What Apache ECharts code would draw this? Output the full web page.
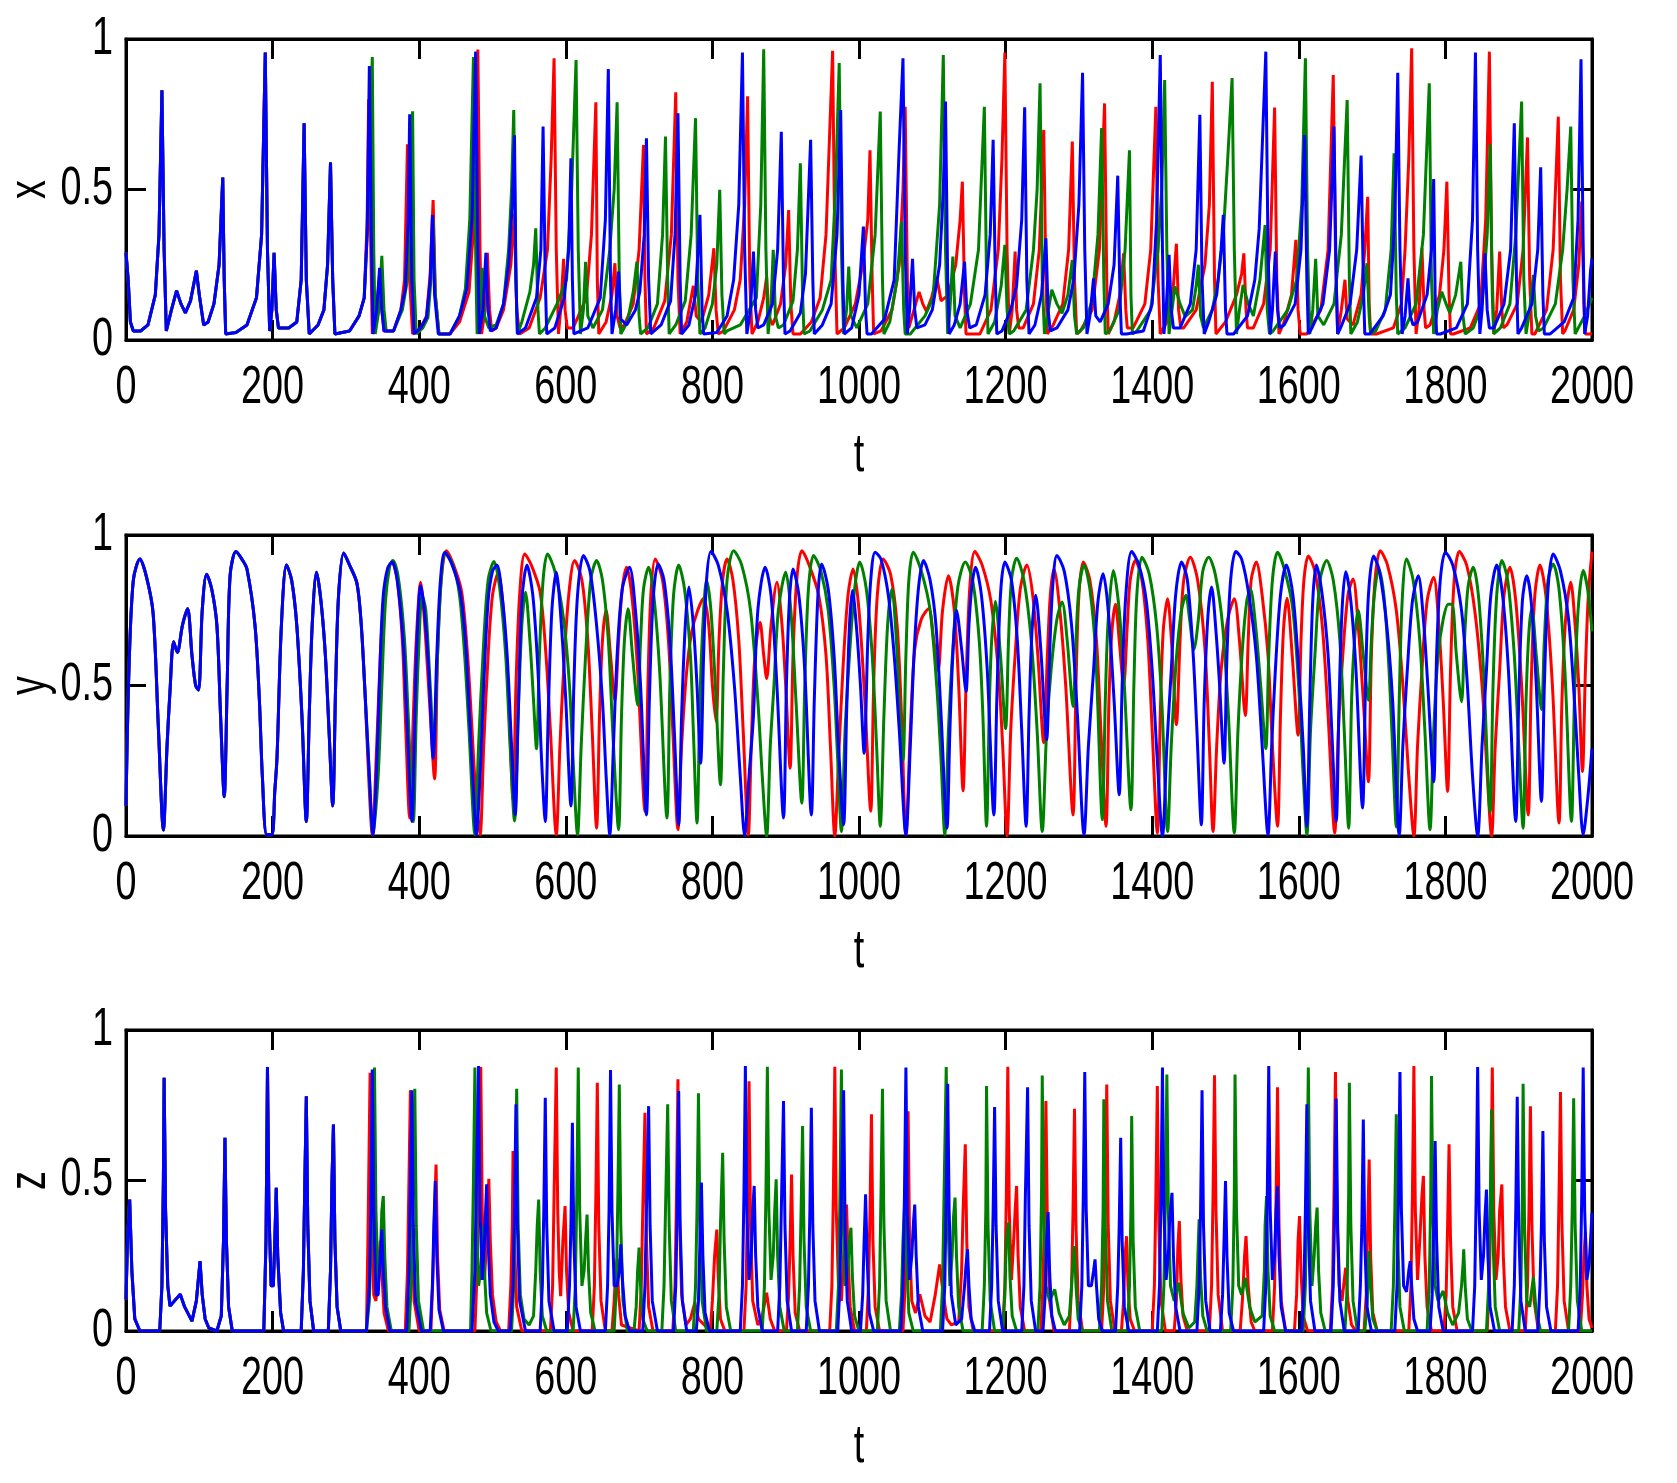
<!DOCTYPE html>
<html>
<head>
<meta charset="utf-8">
<script src="https://cdn.jsdelivr.net/npm/echarts@6/dist/echarts.min.js"></script>
<style>
html, body { margin: 0; padding: 0; background: #fff; }
#main { width: 1677px; height: 1483px; }
</style>
</head>
<body>
<div id="main"></div>
<script>
// tick labels
const tTicks = [0, 200, 400, 600, 800, 1000, 1200, 1400, 1600, 1800, 2000]
const vTicks = [0, 0.5, 1]

// ---- x(t): shared start (all three traces overlap), then per trace
const xEarly = [[0,0.29],[3,0.2],[6,0.06],[10,0.03],[20,0.03],[30,0.05],[40,0.15],[45,0.35],[49,0.83],[52,0.3],[55,0.03],[62,0.1],[69,0.164],[75,0.12],[81,0.09],[88,0.13],[96,0.23],[100,0.15],[106,0.05],[112,0.06],[120,0.12],[127,0.25],[132,0.54],[134,0.2],[136,0.02],[150,0.025],[165,0.05],[178,0.14],[185,0.35],[190,0.955],[193,0.3],[196,0.03],[199,0.1],[202,0.29],[205,0.1],[208,0.04],[222,0.04],[233,0.06],[239,0.2],[243,0.72],[246,0.2],[250,0.02],[262,0.05],[270,0.1],[275,0.25],[279,0.59],[282,0.2],[285,0.02],[305,0.03],[318,0.08],[325,0.14]]

const xRedTail = [[329,0.4],[331,0.8],[334,0.3],[336,0.02],[342,0.1],[346,0.22],[349,0.1],[352,0.03],[365,0.03],[375,0.1],[380,0.2],[384,0.65],[387,0.2],[391,0.02],[402,0.04],[410,0.08],[415,0.22],[419,0.465],[422,0.15],[427,0.02],[442,0.02],[455,0.06],[468,0.16],[475,0.4],[480,0.965],[483,0.3],[485,0.02],[490,0.1],[493,0.29],[496,0.1],[499,0.03],[505,0.04],[515,0.1],[525,0.25],[530,0.42],[533,0.1],[537,0.02],[550,0.04],[565,0.14],[575,0.3],[580,0.6],[584,0.936],[587,0.3],[590,0.02],[593,0.1],[597,0.27],[599,0.1],[602,0.04],[610,0.04],[628,0.14],[635,0.35],[641,0.79],[643,0.2],[645,0.02],[655,0.06],[663,0.15],[667,0.255],[670,0.08],[674,0.04],[680,0.05],[692,0.12],[700,0.3],[706,0.648],[708,0.2],[710,0.02],[720,0.04],[735,0.13],[744,0.35],[750,0.823],[753,0.2],[756,0.02],[765,0.06],[774,0.18],[778,0.08],[785,0.06],[795,0.15],[802,0.305],[805,0.1],[808,0.02],[815,0.03],[830,0.1],[838,0.2],[844,0.45],[848,0.81],[851,0.2],[854,0.02],[862,0.06],[870,0.14],[874,0.21],[877,0.08],[882,0.05],[893,0.12],[900,0.25],[904,0.432],[907,0.12],[910,0.02],[920,0.02],[935,0.06],[947,0.14],[955,0.35],[964,0.961],[967,0.3],[970,0.02],[980,0.04],[995,0.12],[1005,0.25],[1012,0.4],[1015,0.63],[1018,0.2],[1020,0.02],[1030,0.03],[1045,0.1],[1055,0.25],[1060,0.5],[1063,0.775],[1066,0.2],[1068,0.04],[1075,0.1],[1082,0.16],[1087,0.12],[1092,0.095],[1099,0.14],[1106,0.21],[1112,0.13],[1122,0.15],[1132,0.25],[1138,0.4],[1141,0.526],[1144,0.15],[1146,0.02],[1165,0.02],[1180,0.1],[1190,0.3],[1195,0.6],[1199,0.955],[1202,0.3],[1205,0.02],[1209,0.1],[1213,0.294],[1215,0.1],[1218,0.04],[1224,0.04],[1238,0.12],[1246,0.3],[1252,0.698],[1255,0.2],[1257,0.02],[1265,0.05],[1278,0.12],[1286,0.3],[1291,0.659],[1294,0.2],[1297,0.02],[1302,0.03],[1318,0.1],[1328,0.3],[1335,0.786],[1338,0.2],[1340,0.02],[1348,0.06],[1356,0.15],[1361,0.288],[1364,0.1],[1366,0.04],[1374,0.04],[1390,0.12],[1398,0.3],[1405,0.775],[1408,0.2],[1411,0.02],[1420,0.06],[1428,0.15],[1433,0.32],[1436,0.1],[1439,0.04],[1443,0.04],[1460,0.1],[1472,0.25],[1478,0.45],[1482,0.858],[1485,0.2],[1487,0.02],[1500,0.06],[1515,0.15],[1522,0.22],[1525,0.288],[1528,0.1],[1530,0.04],[1538,0.04],[1552,0.12],[1561,0.3],[1567,0.772],[1570,0.2],[1573,0.02],[1580,0.06],[1590,0.15],[1596,0.333],[1599,0.1],[1602,0.02],[1611,0.02],[1630,0.1],[1640,0.3],[1647,0.88],[1650,0.3],[1653,0.02],[1658,0.1],[1663,0.2],[1666,0.07],[1674,0.05],[1685,0.15],[1690,0.3],[1694,0.476],[1696,0.12],[1698,0.02],[1706,0.02],[1729,0.04],[1740,0.12],[1745,0.3],[1750,0.6],[1754,0.969],[1757,0.3],[1760,0.02],[1764,0.1],[1768,0.305],[1771,0.1],[1773,0.04],[1779,0.05],[1792,0.15],[1798,0.3],[1802,0.526],[1805,0.15],[1807,0.02],[1811,0.02],[1834,0.04],[1848,0.12],[1855,0.4],[1860,0.958],[1863,0.3],[1866,0.02],[1870,0.1],[1874,0.294],[1877,0.1],[1879,0.04],[1884,0.05],[1898,0.12],[1906,0.3],[1912,0.673],[1915,0.2],[1918,0.02],[1922,0.02],[1938,0.1],[1947,0.3],[1954,0.742],[1957,0.2],[1960,0.02],[1963,0.03],[1975,0.1],[1982,0.25],[1986,0.46],[1989,0.12],[1991,0.02],[2000,0.02]]

const xGreenTail = [[330,0.4],[336,0.94],[338,0.3],[340,0.02],[345,0.1],[349,0.28],[352,0.1],[355,0.03],[365,0.03],[377,0.1],[384,0.2],[388,0.5],[391,0.76],[393,0.2],[396,0.02],[405,0.04],[412,0.075],[416,0.2],[419,0.4],[422,0.15],[427,0.02],[442,0.02],[455,0.08],[463,0.17],[469,0.4],[474,0.94],[477,0.3],[479,0.02],[483,0.1],[486,0.24],[489,0.08],[495,0.04],[505,0.05],[515,0.12],[522,0.3],[526,0.5],[529,0.764],[532,0.2],[534,0.02],[540,0.06],[551,0.16],[556,0.25],[559,0.371],[562,0.1],[564,0.02],[572,0.04],[588,0.12],[601,0.2],[608,0.5],[614,0.93],[617,0.3],[620,0.02],[624,0.1],[627,0.26],[630,0.08],[637,0.04],[650,0.1],[660,0.3],[666,0.5],[670,0.79],[673,0.2],[675,0.02],[684,0.06],[692,0.16],[697,0.26],[700,0.08],[702,0.02],[712,0.04],[725,0.12],[732,0.35],[736,0.676],[739,0.2],[741,0.02],[750,0.05],[763,0.13],[771,0.35],[777,0.737],[780,0.2],[783,0.02],[790,0.04],[800,0.12],[806,0.25],[810,0.499],[813,0.15],[816,0.02],[820,0.03],[838,0.05],[860,0.14],[866,0.45],[870,0.966],[873,0.3],[876,0.02],[880,0.12],[883,0.3],[886,0.08],[890,0.04],[897,0.05],[910,0.13],[916,0.3],[920,0.587],[923,0.15],[925,0.02],[933,0.03],[950,0.1],[962,0.2],[968,0.5],[973,0.92],[976,0.3],[979,0.02],[983,0.1],[986,0.244],[989,0.08],[997,0.04],[1012,0.12],[1022,0.35],[1029,0.759],[1032,0.2],[1034,0.02],[1042,0.06],[1052,0.2],[1058,0.393],[1061,0.1],[1063,0.02],[1070,0.02],[1090,0.08],[1101,0.14],[1110,0.45],[1115,0.947],[1118,0.3],[1121,0.02],[1124,0.1],[1128,0.277],[1131,0.08],[1138,0.04],[1152,0.12],[1163,0.3],[1171,0.775],[1174,0.2],[1176,0.02],[1185,0.06],[1194,0.18],[1199,0.316],[1202,0.1],[1205,0.02],[1211,0.03],[1228,0.1],[1238,0.3],[1243,0.5],[1247,0.853],[1250,0.2],[1253,0.02],[1257,0.08],[1263,0.167],[1270,0.12],[1277,0.089],[1285,0.15],[1291,0.266],[1294,0.08],[1297,0.02],[1306,0.04],[1318,0.13],[1326,0.35],[1331,0.704],[1334,0.2],[1336,0.02],[1342,0.03],[1355,0.1],[1363,0.3],[1369,0.63],[1371,0.15],[1373,0.02],[1379,0.03],[1398,0.1],[1408,0.3],[1413,0.5],[1417,0.864],[1420,0.3],[1423,0.02],[1427,0.1],[1431,0.178],[1438,0.12],[1445,0.078],[1455,0.1],[1460,0.18],[1463,0.25],[1466,0.08],[1470,0.04],[1482,0.1],[1490,0.2],[1497,0.35],[1503,0.6],[1509,0.87],[1512,0.3],[1515,0.02],[1519,0.1],[1524,0.183],[1531,0.12],[1538,0.08],[1547,0.2],[1554,0.382],[1557,0.1],[1560,0.02],[1565,0.03],[1585,0.1],[1597,0.2],[1604,0.45],[1609,0.936],[1612,0.3],[1615,0.02],[1619,0.1],[1623,0.27],[1626,0.08],[1634,0.05],[1648,0.12],[1658,0.35],[1666,0.797],[1669,0.2],[1671,0.02],[1680,0.06],[1688,0.15],[1693,0.255],[1696,0.08],[1698,0.02],[1705,0.03],[1718,0.1],[1726,0.3],[1730,0.62],[1733,0.15],[1735,0.02],[1745,0.04],[1760,0.12],[1770,0.35],[1778,0.853],[1781,0.2],[1784,0.02],[1789,0.1],[1795,0.16],[1801,0.12],[1806,0.09],[1814,0.15],[1821,0.26],[1824,0.08],[1827,0.02],[1838,0.04],[1850,0.12],[1857,0.35],[1861,0.65],[1864,0.15],[1866,0.02],[1875,0.04],[1888,0.12],[1896,0.35],[1904,0.792],[1907,0.2],[1910,0.02],[1915,0.1],[1920,0.216],[1923,0.08],[1927,0.03],[1934,0.04],[1950,0.12],[1960,0.3],[1966,0.5],[1971,0.709],[1974,0.2],[1977,0.02],[1990,0.08],[2000,0.14]]

const xBlueTail = [[329,0.35],[332,0.91],[335,0.3],[337,0.02],[342,0.1],[346,0.24],[349,0.1],[352,0.03],[365,0.03],[375,0.1],[381,0.17],[385,0.4],[387,0.75],[390,0.2],[393,0.02],[402,0.04],[410,0.075],[415,0.2],[418,0.415],[421,0.15],[426,0.02],[442,0.02],[455,0.08],[465,0.17],[472,0.4],[477,0.958],[480,0.3],[482,0.02],[487,0.1],[491,0.29],[494,0.1],[497,0.03],[505,0.04],[515,0.12],[522,0.25],[527,0.45],[530,0.68],[532,0.2],[534,0.02],[545,0.04],[560,0.14],[566,0.3],[569,0.709],[572,0.2],[574,0.02],[585,0.04],[598,0.14],[604,0.3],[607,0.604],[609,0.2],[611,0.02],[630,0.04],[647,0.14],[654,0.4],[658,0.9],[661,0.2],[663,0.02],[668,0.1],[672,0.227],[675,0.07],[683,0.05],[695,0.1],[701,0.16],[707,0.35],[710,0.67],[713,0.2],[716,0.02],[730,0.05],[743,0.13],[749,0.35],[753,0.753],[756,0.2],[758,0.02],[768,0.05],[777,0.15],[783,0.416],[786,0.1],[788,0.02],[806,0.025],[820,0.08],[829,0.2],[836,0.45],[841,0.955],[844,0.3],[847,0.02],[852,0.1],[856,0.294],[859,0.1],[862,0.04],[870,0.05],[882,0.12],[889,0.3],[894,0.692],[897,0.2],[899,0.02],[906,0.03],[920,0.09],[927,0.22],[934,0.665],[937,0.2],[939,0.02],[950,0.05],[962,0.12],[970,0.35],[975,0.764],[978,0.2],[980,0.02],[990,0.04],[1000,0.15],[1006,0.377],[1009,0.1],[1011,0.02],[1017,0.02],[1035,0.07],[1048,0.2],[1055,0.65],[1060,0.936],[1063,0.3],[1066,0.02],[1069,0.1],[1073,0.27],[1076,0.1],[1079,0.04],[1090,0.05],[1100,0.1],[1110,0.25],[1115,0.5],[1118,0.792],[1121,0.2],[1123,0.02],[1130,0.05],[1138,0.12],[1144,0.26],[1147,0.1],[1151,0.04],[1160,0.05],[1172,0.15],[1179,0.35],[1183,0.665],[1186,0.2],[1188,0.02],[1195,0.03],[1207,0.1],[1215,0.18],[1222,0.4],[1226,0.773],[1229,0.2],[1232,0.02],[1240,0.05],[1249,0.15],[1255,0.338],[1258,0.1],[1261,0.03],[1270,0.04],[1285,0.1],[1293,0.2],[1300,0.45],[1305,0.888],[1308,0.3],[1311,0.02],[1315,0.08],[1320,0.205],[1323,0.08],[1329,0.06],[1340,0.12],[1348,0.25],[1353,0.546],[1356,0.15],[1358,0.02],[1365,0.02],[1388,0.03],[1400,0.12],[1406,0.4],[1411,0.947],[1414,0.3],[1416,0.02],[1419,0.1],[1423,0.283],[1426,0.1],[1429,0.04],[1438,0.04],[1452,0.12],[1460,0.3],[1465,0.748],[1468,0.2],[1471,0.02],[1477,0.06],[1488,0.15],[1494,0.3],[1497,0.416],[1500,0.1],[1502,0.02],[1511,0.02],[1530,0.08],[1540,0.2],[1546,0.37],[1551,0.7],[1555,0.958],[1558,0.3],[1561,0.02],[1564,0.1],[1568,0.294],[1571,0.1],[1574,0.04],[1580,0.05],[1595,0.12],[1603,0.3],[1608,0.681],[1611,0.2],[1613,0.02],[1618,0.04],[1633,0.12],[1642,0.3],[1648,0.709],[1651,0.2],[1653,0.02],[1657,0.04],[1670,0.12],[1679,0.3],[1685,0.613],[1688,0.2],[1690,0.02],[1697,0.02],[1715,0.08],[1725,0.15],[1731,0.4],[1735,0.888],[1738,0.3],[1741,0.02],[1745,0.08],[1749,0.205],[1752,0.08],[1756,0.05],[1762,0.06],[1775,0.15],[1781,0.3],[1784,0.535],[1786,0.15],[1788,0.02],[1793,0.02],[1815,0.04],[1830,0.12],[1837,0.4],[1841,0.955],[1844,0.3],[1847,0.02],[1850,0.1],[1854,0.288],[1857,0.1],[1860,0.04],[1866,0.04],[1880,0.12],[1889,0.3],[1894,0.72],[1897,0.2],[1899,0.02],[1904,0.04],[1918,0.12],[1926,0.3],[1930,0.574],[1933,0.15],[1935,0.02],[1943,0.02],[1962,0.06],[1975,0.14],[1981,0.4],[1985,0.933],[1988,0.3],[1990,0.02],[1994,0.08],[1998,0.23],[2000,0.27]]

// ---- y(t)
const yEarly = [[0,0.1],[4,0.55],[10,0.85],[19,0.92],[28,0.86],[37,0.74],[44,0.37],[51,0.02],[56,0.3],[60,0.48],[65,0.645],[70,0.61],[77,0.7],[84,0.755],[90,0.6],[95,0.5],[99,0.485],[104,0.75],[110,0.87],[117,0.82],[124,0.7],[129,0.4],[134,0.13],[138,0.5],[142,0.865],[150,0.945],[158,0.92],[165,0.887],[176,0.7],[182,0.45],[186,0.2],[192,0.004],[199,0.004],[203,0.15],[206,0.26],[212,0.7],[219,0.9],[226,0.85],[233,0.7],[240,0.4],[246,0.048],[250,0.4],[254,0.7],[260,0.876],[266,0.78],[272,0.6],[277,0.35],[282,0.1],[286,0.5],[290,0.8],[297,0.94],[305,0.9],[315,0.84],[321,0.7],[326,0.48]]

const yRedTail = [[331,0.2],[336,0.004],[342,0.3],[347,0.6],[352,0.8],[358,0.89],[363,0.91],[370,0.85],[377,0.65],[381,0.4],[387,0.06],[392,0.4],[396,0.65],[402,0.843],[407,0.72],[414,0.45],[421,0.19],[425,0.6],[430,0.85],[437,0.948],[447,0.9],[458,0.81],[466,0.6],[471,0.4],[477,0.15],[483,0.004],[488,0.3],[494,0.6],[500,0.8],[508,0.876],[515,0.75],[522,0.45],[528,0.12],[532,0.5],[537,0.8],[544,0.937],[553,0.9],[565,0.81],[573,0.6],[579,0.35],[587,0.004],[592,0.3],[597,0.55],[604,0.8],[612,0.915],[622,0.85],[630,0.65],[636,0.35],[642,0.026],[646,0.4],[650,0.65],[655,0.75],[661,0.6],[667,0.45],[672,0.65],[677,0.82],[683,0.893],[690,0.8],[698,0.55],[708,0.082],[712,0.5],[716,0.8],[722,0.92],[732,0.85],[740,0.65],[746,0.35],[753,0.021],[758,0.3],[765,0.55],[772,0.68],[780,0.75],[788,0.79],[795,0.7],[800,0.5],[805,0.38],[809,0.65],[814,0.85],[820,0.92],[828,0.85],[836,0.65],[842,0.35],[849,0.004],[853,0.3],[858,0.6],[865,0.71],[870,0.6],[874,0.523],[880,0.7],[888,0.843],[895,0.7],[900,0.5],[906,0.225],[910,0.6],[915,0.85],[922,0.948],[932,0.9],[945,0.8],[955,0.6],[961,0.3],[967,0.0],[972,0.25],[978,0.55],[985,0.8],[992,0.887],[1000,0.75],[1008,0.45],[1016,0.082],[1020,0.5],[1025,0.8],[1033,0.92],[1043,0.87],[1052,0.7],[1058,0.4],[1064,0.004],[1070,0.35],[1076,0.62],[1085,0.72],[1095,0.755],[1102,0.65],[1108,0.55],[1114,0.75],[1122,0.865],[1130,0.75],[1136,0.5],[1142,0.15],[1146,0.5],[1151,0.82],[1158,0.945],[1168,0.9],[1180,0.78],[1190,0.55],[1196,0.3],[1202,0.0],[1207,0.35],[1213,0.6],[1220,0.82],[1229,0.9],[1237,0.8],[1244,0.6],[1252,0.31],[1257,0.6],[1261,0.8],[1266,0.887],[1274,0.75],[1282,0.5],[1292,0.07],[1296,0.5],[1300,0.8],[1306,0.91],[1315,0.85],[1324,0.65],[1330,0.35],[1337,0.032],[1341,0.45],[1345,0.68],[1350,0.77],[1355,0.65],[1361,0.5],[1366,0.7],[1370,0.85],[1377,0.915],[1386,0.85],[1394,0.65],[1400,0.35],[1407,0.01],[1411,0.4],[1415,0.68],[1421,0.788],[1427,0.62],[1433,0.37],[1438,0.65],[1443,0.85],[1452,0.926],[1462,0.85],[1472,0.62],[1478,0.3],[1483,0.015],[1488,0.3],[1494,0.55],[1503,0.72],[1512,0.788],[1519,0.65],[1527,0.4],[1531,0.65],[1535,0.85],[1542,0.91],[1550,0.8],[1558,0.6],[1564,0.3],[1571,0.032],[1575,0.4],[1579,0.68],[1584,0.79],[1591,0.6],[1599,0.335],[1603,0.65],[1607,0.85],[1613,0.93],[1622,0.88],[1632,0.7],[1640,0.4],[1649,0.01],[1654,0.35],[1660,0.6],[1667,0.8],[1674,0.854],[1681,0.7],[1688,0.45],[1695,0.18],[1699,0.6],[1704,0.85],[1711,0.948],[1721,0.9],[1733,0.75],[1742,0.5],[1750,0.2],[1757,0.0],[1762,0.3],[1768,0.55],[1775,0.78],[1784,0.86],[1791,0.7],[1797,0.45],[1803,0.148],[1807,0.55],[1812,0.85],[1819,0.945],[1829,0.9],[1840,0.75],[1850,0.5],[1856,0.25],[1863,0.0],[1868,0.3],[1874,0.55],[1880,0.8],[1888,0.893],[1896,0.78],[1904,0.5],[1913,0.07],[1917,0.5],[1922,0.8],[1929,0.9],[1937,0.8],[1946,0.5],[1955,0.043],[1959,0.45],[1964,0.72],[1971,0.843],[1977,0.7],[1982,0.5],[1987,0.214],[1991,0.55],[1995,0.8],[2000,0.945]]

const yGreenTail = [[331,0.25],[337,0.004],[344,0.2],[349,0.5],[354,0.78],[360,0.9],[364,0.915],[372,0.85],[380,0.65],[385,0.4],[392,0.048],[396,0.4],[399,0.6],[404,0.8],[409,0.75],[415,0.5],[420,0.3],[425,0.6],[430,0.85],[436,0.94],[446,0.9],[455,0.8],[462,0.6],[468,0.35],[476,0.004],[481,0.3],[487,0.6],[494,0.85],[502,0.912],[510,0.82],[518,0.6],[524,0.3],[530,0.05],[535,0.4],[540,0.7],[545,0.81],[551,0.65],[556,0.45],[560,0.29],[564,0.6],[569,0.85],[575,0.937],[585,0.88],[597,0.72],[605,0.5],[610,0.25],[616,0.004],[621,0.3],[627,0.6],[634,0.85],[642,0.915],[650,0.85],[658,0.65],[664,0.35],[672,0.021],[676,0.4],[680,0.65],[685,0.755],[691,0.6],[698,0.435],[702,0.65],[706,0.82],[713,0.893],[720,0.8],[728,0.55],[738,0.06],[742,0.5],[747,0.8],[754,0.9],[762,0.82],[770,0.6],[774,0.35],[779,0.043],[783,0.45],[787,0.7],[792,0.85],[798,0.75],[804,0.5],[811,0.17],[815,0.55],[820,0.85],[829,0.948],[840,0.9],[852,0.75],[862,0.45],[868,0.2],[874,0.0],[879,0.3],[884,0.5],[890,0.75],[900,0.876],[907,0.75],[914,0.45],[922,0.109],[926,0.5],[931,0.82],[938,0.932],[948,0.88],[958,0.75],[966,0.5],[971,0.25],[976,0.015],[981,0.35],[987,0.6],[994,0.82],[1001,0.91],[1010,0.82],[1018,0.6],[1024,0.3],[1029,0.032],[1034,0.4],[1039,0.7],[1045,0.82],[1051,0.65],[1056,0.4],[1060,0.25],[1064,0.6],[1068,0.85],[1074,0.943],[1085,0.88],[1097,0.75],[1106,0.5],[1112,0.25],[1117,0.004],[1122,0.35],[1128,0.62],[1135,0.83],[1145,0.91],[1155,0.85],[1164,0.65],[1169,0.4],[1174,0.032],[1178,0.45],[1181,0.65],[1186,0.78],[1193,0.6],[1200,0.357],[1204,0.65],[1208,0.85],[1215,0.923],[1225,0.85],[1235,0.65],[1243,0.35],[1250,0.015],[1256,0.35],[1262,0.55],[1270,0.72],[1277,0.777],[1284,0.65],[1292,0.43],[1296,0.65],[1300,0.82],[1307,0.9],[1315,0.82],[1323,0.6],[1332,0.054],[1336,0.45],[1340,0.72],[1347,0.882],[1355,0.75],[1362,0.5],[1371,0.087],[1375,0.5],[1379,0.8],[1386,0.926],[1396,0.87],[1406,0.7],[1413,0.45],[1421,0.015],[1426,0.3],[1433,0.59],[1440,0.75],[1446,0.8],[1451,0.72],[1457,0.62],[1463,0.72],[1469,0.88],[1477,0.926],[1486,0.87],[1496,0.7],[1504,0.4],[1512,0.01],[1517,0.35],[1523,0.62],[1529,0.78],[1534,0.82],[1541,0.7],[1548,0.5],[1555,0.29],[1559,0.6],[1564,0.85],[1571,0.943],[1581,0.88],[1592,0.75],[1601,0.45],[1606,0.2],[1611,0.004],[1616,0.35],[1622,0.6],[1629,0.85],[1638,0.915],[1647,0.85],[1656,0.65],[1662,0.35],[1668,0.026],[1672,0.45],[1676,0.65],[1681,0.75],[1688,0.6],[1695,0.451],[1699,0.65],[1703,0.8],[1709,0.887],[1716,0.8],[1722,0.6],[1727,0.35],[1733,0.03],[1737,0.45],[1741,0.78],[1747,0.92],[1756,0.85],[1765,0.65],[1772,0.35],[1779,0.021],[1784,0.35],[1790,0.6],[1797,0.72],[1804,0.77],[1809,0.77],[1815,0.6],[1822,0.446],[1826,0.65],[1831,0.83],[1838,0.893],[1845,0.8],[1852,0.55],[1861,0.08],[1865,0.5],[1870,0.8],[1877,0.915],[1885,0.85],[1894,0.6],[1900,0.3],[1906,0.026],[1910,0.45],[1914,0.68],[1918,0.755],[1924,0.6],[1931,0.42],[1935,0.65],[1940,0.85],[1947,0.904],[1955,0.82],[1963,0.55],[1972,0.048],[1976,0.45],[1981,0.75],[1988,0.882],[1994,0.82],[2000,0.68]]

const yBlueTail = [[332,0.2],[337,0.004],[343,0.3],[347,0.6],[351,0.8],[357,0.89],[363,0.91],[370,0.85],[378,0.65],[383,0.4],[390,0.048],[394,0.4],[397,0.65],[402,0.832],[407,0.75],[413,0.55],[419,0.258],[424,0.6],[429,0.85],[435,0.943],[445,0.9],[456,0.81],[463,0.65],[467,0.48],[473,0.2],[478,0.004],[483,0.2],[488,0.5],[494,0.78],[500,0.88],[506,0.9],[513,0.8],[520,0.6],[526,0.3],[531,0.07],[535,0.4],[540,0.78],[547,0.9],[555,0.8],[562,0.55],[567,0.25],[572,0.048],[576,0.4],[581,0.75],[587,0.876],[594,0.7],[600,0.45],[607,0.1],[611,0.5],[616,0.8],[624,0.932],[633,0.88],[642,0.7],[650,0.45],[655,0.2],[660,0.004],[665,0.3],[670,0.6],[677,0.82],[687,0.893],[695,0.75],[702,0.5],[710,0.07],[714,0.45],[719,0.78],[726,0.904],[734,0.85],[742,0.65],[748,0.35],[754,0.037],[758,0.4],[763,0.7],[768,0.827],[774,0.7],[779,0.5],[784,0.242],[788,0.6],[792,0.85],[798,0.945],[808,0.9],[820,0.75],[830,0.5],[838,0.2],[844,0.0],[850,0.2],[856,0.4],[862,0.75],[872,0.893],[880,0.8],[888,0.5],[897,0.06],[901,0.5],[905,0.78],[910,0.887],[918,0.8],[926,0.55],[935,0.07],[939,0.45],[944,0.8],[949,0.904],[958,0.82],[966,0.6],[972,0.3],[979,0.037],[983,0.4],[987,0.7],[991,0.816],[997,0.68],[1002,0.5],[1007,0.275],[1012,0.65],[1016,0.85],[1022,0.943],[1030,0.92],[1040,0.8],[1048,0.6],[1055,0.35],[1064,0.004],[1070,0.3],[1075,0.6],[1081,0.82],[1088,0.915],[1097,0.85],[1105,0.7],[1112,0.4],[1120,0.026],[1124,0.35],[1128,0.6],[1133,0.75],[1140,0.62],[1146,0.48],[1150,0.7],[1154,0.83],[1159,0.893],[1167,0.8],[1175,0.55],[1184,0.07],[1188,0.45],[1193,0.8],[1199,0.91],[1208,0.85],[1216,0.65],[1222,0.35],[1228,0.032],[1232,0.4],[1236,0.68],[1241,0.8],[1248,0.62],[1256,0.32],[1260,0.6],[1264,0.82],[1270,0.932],[1280,0.88],[1290,0.7],[1298,0.4],[1307,0.004],[1313,0.3],[1320,0.55],[1326,0.78],[1333,0.871],[1340,0.75],[1348,0.45],[1355,0.137],[1359,0.5],[1364,0.8],[1372,0.945],[1382,0.9],[1392,0.78],[1400,0.55],[1407,0.25],[1414,0.0],[1420,0.3],[1426,0.55],[1432,0.8],[1440,0.91],[1448,0.85],[1456,0.6],[1461,0.35],[1467,0.037],[1471,0.45],[1476,0.73],[1481,0.827],[1487,0.68],[1492,0.5],[1498,0.242],[1502,0.6],[1507,0.85],[1514,0.945],[1522,0.92],[1532,0.8],[1542,0.6],[1550,0.3],[1558,0.004],[1563,0.3],[1568,0.55],[1575,0.8],[1583,0.9],[1592,0.8],[1600,0.55],[1606,0.3],[1611,0.032],[1615,0.45],[1619,0.78],[1624,0.9],[1632,0.8],[1640,0.6],[1645,0.35],[1651,0.048],[1655,0.45],[1659,0.75],[1664,0.878],[1671,0.78],[1678,0.55],[1687,0.093],[1691,0.5],[1695,0.8],[1702,0.93],[1710,0.88],[1720,0.7],[1728,0.45],[1737,0.004],[1742,0.3],[1748,0.55],[1755,0.78],[1763,0.865],[1770,0.72],[1776,0.5],[1784,0.18],[1788,0.6],[1793,0.85],[1800,0.943],[1810,0.9],[1822,0.75],[1830,0.5],[1837,0.2],[1844,0.0],[1850,0.3],[1856,0.55],[1862,0.8],[1870,0.9],[1878,0.8],[1886,0.55],[1896,0.048],[1900,0.45],[1905,0.78],[1911,0.865],[1917,0.78],[1924,0.5],[1931,0.115],[1935,0.5],[1940,0.82],[1947,0.937],[1957,0.88],[1968,0.72],[1976,0.45],[1982,0.2],[1988,0.004],[1994,0.12],[2000,0.29]]

// ---- z(t)
const zEarly = [[0,0.105],[2,0.3],[5,0.437],[8,0.2],[12,0.04],[19,0],[46,0],[49,0.15],[51,0.5],[52,0.841],[54,0.4],[57,0.15],[60,0.083],[66,0.1],[74,0.122],[80,0.08],[90,0.033],[96,0.1],[101,0.232],[104,0.12],[108,0.04],[113,0.01],[124,0],[130,0.05],[133,0.3],[135,0.642],[137,0.3],[140,0.08],[145,0],[188,0],[191,0.3],[193,0.877],[195,0.4],[198,0.15],[201,0.15],[203,0.3],[205,0.476],[207,0.25],[211,0.06],[215,0],[239,0],[242,0.2],[244,0.5],[246,0.78],[248,0.35],[251,0.1],[256,0],[276,0],[279,0.2],[281,0.5],[283,0.686],[285,0.3],[288,0.08],[293,0],[328,0]]

const zRedTail = [[330,0.3],[333,0.858],[335,0.4],[338,0.12],[341,0.1],[344,0.2],[347,0.3],[349,0.2],[352,0.06],[358,0],[381,0],[384,0.2],[386,0.5],[388,0.8],[390,0.35],[393,0.1],[400,0],[416,0],[419,0.2],[421,0.4],[423,0.553],[425,0.25],[428,0.07],[434,0],[476,0],[479,0.2],[481,0.5],[484,0.877],[486,0.4],[489,0.17],[492,0.3],[495,0.506],[497,0.3],[500,0.12],[505,0.03],[511,0],[522,0],[525,0.15],[527,0.35],[528,0.598],[530,0.3],[533,0.08],[540,0],[579,0],[582,0.15],[584,0.45],[587,0.875],[589,0.4],[591,0.2],[593,0.116],[596,0.3],[599,0.415],[601,0.2],[604,0.06],[610,0],[636,0],[639,0.15],[641,0.45],[643,0.825],[645,0.35],[648,0.1],[654,0],[663,0],[666,0.1],[668,0.2],[670,0.24],[672,0.12],[676,0.02],[700,0],[703,0.15],[705,0.4],[708,0.725],[710,0.3],[713,0.08],[719,0],[746,0],[749,0.15],[751,0.45],[753,0.836],[755,0.4],[758,0.12],[764,0.02],[770,0.04],[776,0.094],[781,0.04],[797,0],[800,0.1],[803,0.25],[806,0.337],[808,0.18],[811,0.04],[817,0],[843,0],[846,0.15],[848,0.45],[850,0.83],[852,0.35],[855,0.1],[862,0.02],[868,0.05],[874,0.127],[879,0.04],[885,0],[901,0],[904,0.12],[906,0.3],[908,0.52],[910,0.25],[913,0.06],[919,0],[960,0],[963,0.15],[965,0.45],[967,0.878],[969,0.4],[972,0.15],[976,0.1],[980,0.3],[983,0.42],[985,0.25],[988,0.08],[994,0],[1010,0],[1013,0.15],[1015,0.4],[1017,0.72],[1019,0.3],[1022,0.08],[1028,0],[1060,0],[1063,0.15],[1065,0.4],[1067,0.73],[1069,0.3],[1072,0.1],[1077,0.06],[1083,0.122],[1090,0.05],[1097,0.03],[1104,0.12],[1110,0.221],[1115,0.12],[1120,0.04],[1126,0.02],[1136,0.03],[1140,0.2],[1142,0.4],[1145,0.62],[1147,0.3],[1150,0.08],[1156,0],[1196,0],[1199,0.15],[1201,0.45],[1203,0.878],[1205,0.4],[1208,0.17],[1211,0.3],[1213,0.4],[1215,0.482],[1217,0.25],[1220,0.08],[1226,0],[1248,0],[1251,0.15],[1253,0.4],[1255,0.764],[1257,0.35],[1260,0.1],[1266,0],[1287,0],[1290,0.15],[1292,0.4],[1294,0.738],[1296,0.35],[1299,0.1],[1305,0],[1331,0],[1334,0.15],[1336,0.45],[1338,0.819],[1340,0.35],[1343,0.1],[1349,0],[1358,0],[1361,0.1],[1363,0.25],[1365,0.315],[1367,0.15],[1370,0.04],[1376,0],[1400,0],[1403,0.15],[1405,0.45],[1407,0.814],[1409,0.35],[1412,0.1],[1418,0],[1430,0],[1433,0.1],[1435,0.28],[1437,0.365],[1439,0.18],[1442,0.05],[1448,0],[1478,0],[1481,0.15],[1483,0.45],[1485,0.85],[1487,0.4],[1490,0.12],[1496,0],[1520,0],[1523,0.1],[1526,0.25],[1528,0.315],[1531,0.15],[1535,0.03],[1540,0],[1564,0],[1567,0.15],[1569,0.45],[1571,0.81],[1573,0.35],[1576,0.1],[1582,0],[1594,0],[1597,0.12],[1599,0.3],[1601,0.382],[1603,0.2],[1606,0.05],[1612,0],[1643,0],[1646,0.15],[1648,0.45],[1650,0.86],[1652,0.4],[1655,0.15],[1659,0.1],[1662,0.17],[1664,0.21],[1667,0.1],[1672,0.02],[1678,0],[1689,0],[1692,0.12],[1694,0.35],[1696,0.57],[1698,0.25],[1701,0.06],[1707,0],[1750,0],[1753,0.15],[1755,0.45],[1757,0.88],[1759,0.4],[1762,0.17],[1765,0.3],[1768,0.45],[1770,0.515],[1772,0.25],[1775,0.08],[1781,0],[1798,0],[1801,0.12],[1803,0.35],[1805,0.62],[1807,0.3],[1810,0.08],[1816,0],[1857,0],[1860,0.15],[1862,0.45],[1864,0.875],[1866,0.4],[1869,0.17],[1872,0.25],[1874,0.4],[1877,0.487],[1879,0.25],[1882,0.08],[1888,0],[1909,0],[1912,0.15],[1914,0.4],[1916,0.747],[1918,0.35],[1921,0.1],[1927,0],[1950,0],[1953,0.15],[1955,0.45],[1957,0.794],[1959,0.35],[1962,0.1],[1968,0],[1984,0],[1987,0.12],[1989,0.25],[1991,0.33],[1993,0.15],[1996,0.04],[2000,0.01]]

const zGreenTail = [[332,0.1],[336,0.4],[339,0.875],[341,0.4],[344,0.15],[347,0.25],[349,0.4],[351,0.448],[353,0.25],[356,0.08],[362,0],[386,0],[389,0.15],[391,0.4],[394,0.805],[396,0.35],[399,0.1],[406,0],[470,0],[472,0.2],[474,0.5],[476,0.875],[478,0.4],[481,0.15],[484,0.2],[487,0.35],[489,0.2],[492,0.06],[498,0],[526,0],[529,0.15],[531,0.45],[533,0.805],[535,0.35],[538,0.12],[543,0.04],[550,0.02],[556,0.05],[559,0.2],[561,0.35],[563,0.437],[565,0.2],[568,0.05],[574,0],[610,0],[613,0.15],[615,0.45],[617,0.875],[619,0.4],[622,0.15],[625,0.2],[627,0.3],[629,0.387],[631,0.2],[634,0.06],[640,0],[666,0],[669,0.15],[671,0.45],[673,0.819],[675,0.35],[678,0.1],[684,0],[693,0],[696,0.08],[698,0.2],[700,0.277],[702,0.15],[705,0.04],[711,0],[731,0],[734,0.15],[736,0.4],[739,0.753],[741,0.35],[744,0.1],[750,0],[774,0],[777,0.15],[779,0.4],[781,0.79],[783,0.35],[786,0.1],[792,0],[806,0],[809,0.12],[811,0.35],[814,0.592],[816,0.3],[819,0.08],[825,0],[868,0],[871,0.15],[873,0.45],[875,0.878],[877,0.4],[880,0.17],[883,0.25],[885,0.4],[887,0.504],[889,0.25],[892,0.08],[898,0],[916,0],[919,0.15],[921,0.4],[923,0.681],[925,0.3],[928,0.08],[934,0],[969,0],[972,0.15],[974,0.45],[976,0.869],[978,0.4],[981,0.15],[984,0.18],[987,0.3],[989,0.343],[991,0.18],[994,0.05],[1000,0],[1025,0],[1028,0.15],[1030,0.45],[1032,0.805],[1034,0.35],[1037,0.1],[1043,0],[1055,0],[1058,0.12],[1060,0.3],[1063,0.465],[1065,0.25],[1068,0.06],[1074,0],[1111,0],[1114,0.15],[1116,0.45],[1119,0.877],[1121,0.4],[1124,0.15],[1127,0.25],[1129,0.38],[1131,0.443],[1133,0.25],[1136,0.08],[1142,0],[1168,0],[1171,0.15],[1173,0.4],[1174,0.814],[1176,0.35],[1179,0.1],[1185,0],[1196,0],[1199,0.12],[1201,0.3],[1204,0.36],[1206,0.18],[1209,0.05],[1215,0],[1244,0],[1247,0.15],[1249,0.45],[1250,0.849],[1252,0.4],[1255,0.15],[1260,0.1],[1267,0.138],[1273,0.06],[1280,0.02],[1287,0.05],[1290,0.15],[1292,0.23],[1294,0.282],[1296,0.15],[1299,0.04],[1305,0],[1328,0],[1331,0.15],[1333,0.4],[1334,0.77],[1336,0.35],[1339,0.1],[1345,0],[1366,0],[1369,0.15],[1371,0.4],[1372,0.714],[1374,0.3],[1377,0.08],[1383,0],[1413,0],[1416,0.15],[1418,0.45],[1420,0.852],[1422,0.4],[1425,0.15],[1430,0.1],[1436,0.16],[1442,0.06],[1450,0.01],[1458,0.03],[1461,0.15],[1463,0.3],[1464,0.371],[1466,0.18],[1469,0.05],[1475,0],[1507,0],[1510,0.15],[1512,0.45],[1513,0.852],[1515,0.4],[1518,0.15],[1522,0.12],[1527,0.177],[1533,0.08],[1540,0.03],[1550,0.05],[1553,0.2],[1554,0.35],[1556,0.448],[1558,0.2],[1561,0.05],[1567,0],[1606,0],[1609,0.15],[1611,0.45],[1613,0.875],[1615,0.4],[1618,0.15],[1621,0.25],[1623,0.35],[1625,0.41],[1627,0.2],[1630,0.06],[1636,0],[1663,0],[1666,0.15],[1668,0.45],[1669,0.825],[1671,0.35],[1674,0.1],[1680,0],[1690,0],[1693,0.08],[1695,0.2],[1696,0.266],[1698,0.15],[1701,0.04],[1707,0],[1726,0],[1729,0.15],[1731,0.4],[1733,0.72],[1735,0.3],[1738,0.08],[1744,0],[1775,0],[1778,0.15],[1780,0.45],[1781,0.847],[1783,0.4],[1786,0.15],[1790,0.1],[1797,0.133],[1803,0.06],[1810,0.02],[1818,0.06],[1822,0.15],[1824,0.22],[1825,0.271],[1827,0.15],[1830,0.04],[1836,0],[1856,0],[1859,0.15],[1861,0.4],[1863,0.736],[1865,0.3],[1868,0.08],[1874,0],[1900,0],[1903,0.15],[1905,0.45],[1906,0.821],[1908,0.35],[1911,0.1],[1915,0.08],[1920,0.18],[1924,0.06],[1930,0],[1968,0],[1971,0.15],[1973,0.4],[1975,0.773],[1977,0.35],[1980,0.1],[1986,0],[2000,0]]

const zBlueTail = [[332,0.15],[334,0.4],[336,0.869],[338,0.4],[341,0.12],[344,0.12],[347,0.25],[349,0.337],[351,0.2],[354,0.08],[360,0],[383,0],[386,0.2],[388,0.5],[390,0.8],[392,0.35],[395,0.1],[403,0],[415,0],[418,0.15],[420,0.35],[422,0.498],[424,0.25],[427,0.07],[433,0],[472,0],[476,0.2],[478,0.5],[481,0.88],[483,0.4],[486,0.17],[489,0.3],[492,0.487],[494,0.3],[497,0.12],[502,0.03],[508,0],[524,0],[528,0.15],[530,0.4],[532,0.753],[534,0.35],[537,0.1],[545,0],[565,0],[568,0.15],[570,0.4],[572,0.775],[574,0.35],[577,0.1],[584,0],[602,0],[605,0.15],[607,0.35],[609,0.692],[611,0.3],[614,0.08],[620,0],[654,0],[657,0.15],[659,0.4],[661,0.867],[663,0.4],[666,0.15],[670,0.15],[673,0.2],[675,0.288],[677,0.18],[681,0.05],[687,0],[705,0],[708,0.15],[710,0.4],[713,0.747],[715,0.35],[718,0.1],[725,0],[747,0],[750,0.15],[752,0.4],[754,0.797],[756,0.35],[759,0.1],[765,0],[778,0],[781,0.1],[783,0.3],[785,0.493],[787,0.25],[790,0.06],[796,0],[838,0],[841,0.15],[843,0.45],[845,0.88],[847,0.4],[850,0.17],[853,0.25],[855,0.4],[857,0.482],[859,0.25],[862,0.08],[868,0],[889,0],[892,0.15],[894,0.4],[897,0.764],[899,0.35],[902,0.1],[908,0],[928,0],[931,0.15],[933,0.4],[935,0.742],[937,0.35],[940,0.1],[946,0],[971,0],[974,0.15],[976,0.45],[979,0.8],[981,0.35],[984,0.1],[990,0],[1002,0],[1005,0.12],[1007,0.3],[1009,0.454],[1011,0.25],[1014,0.06],[1020,0],[1057,0],[1060,0.15],[1062,0.45],[1064,0.875],[1066,0.4],[1069,0.17],[1072,0.25],[1074,0.35],[1076,0.42],[1078,0.25],[1081,0.08],[1087,0],[1114,0],[1117,0.15],[1119,0.45],[1121,0.821],[1123,0.4],[1126,0.12],[1132,0.02],[1140,0.04],[1144,0.15],[1146,0.22],[1148,0.271],[1150,0.15],[1153,0.04],[1158,0],[1178,0],[1181,0.15],[1183,0.4],[1185,0.744],[1187,0.35],[1190,0.1],[1196,0],[1222,0],[1225,0.15],[1227,0.45],[1230,0.81],[1232,0.35],[1235,0.1],[1241,0],[1251,0],[1254,0.12],[1256,0.3],[1258,0.395],[1260,0.2],[1263,0.05],[1268,0],[1301,0],[1304,0.15],[1306,0.45],[1308,0.86],[1310,0.4],[1313,0.15],[1317,0.15],[1320,0.2],[1322,0.238],[1324,0.15],[1327,0.04],[1332,0],[1350,0],[1353,0.15],[1355,0.35],[1357,0.642],[1359,0.3],[1362,0.08],[1368,0],[1407,0],[1410,0.15],[1412,0.45],[1414,0.875],[1416,0.4],[1419,0.17],[1422,0.25],[1424,0.38],[1427,0.459],[1429,0.25],[1432,0.08],[1438,0],[1461,0],[1464,0.15],[1466,0.4],[1468,0.8],[1470,0.35],[1473,0.1],[1479,0],[1493,0],[1496,0.12],[1498,0.3],[1500,0.498],[1502,0.25],[1505,0.06],[1511,0],[1552,0],[1555,0.15],[1557,0.45],[1559,0.88],[1561,0.4],[1564,0.17],[1567,0.25],[1569,0.4],[1571,0.482],[1573,0.25],[1576,0.08],[1582,0],[1604,0],[1607,0.15],[1609,0.4],[1611,0.753],[1613,0.35],[1616,0.1],[1622,0],[1644,0],[1647,0.15],[1649,0.4],[1651,0.772],[1653,0.35],[1656,0.1],[1662,0],[1681,0],[1684,0.15],[1686,0.35],[1688,0.703],[1690,0.3],[1693,0.08],[1699,0],[1731,0],[1734,0.15],[1736,0.45],[1738,0.86],[1740,0.4],[1743,0.15],[1747,0.13],[1750,0.2],[1752,0.232],[1754,0.15],[1757,0.04],[1762,0],[1779,0],[1782,0.12],[1784,0.35],[1786,0.631],[1788,0.3],[1791,0.08],[1797,0],[1837,0],[1840,0.15],[1842,0.45],[1844,0.877],[1846,0.4],[1849,0.17],[1852,0.25],[1854,0.38],[1856,0.47],[1858,0.25],[1861,0.08],[1867,0],[1891,0],[1894,0.15],[1896,0.4],[1898,0.778],[1900,0.35],[1903,0.1],[1909,0],[1926,0],[1929,0.15],[1931,0.35],[1933,0.664],[1935,0.3],[1938,0.08],[1944,0],[1981,0],[1984,0.15],[1986,0.45],[1988,0.875],[1990,0.4],[1993,0.17],[1996,0.22],[1998,0.3],[2000,0.393]]

const COLORS = ['#ff0000', '#008000', '#0000ff']
const FONT = '"Liberation Sans", Arial, sans-serif'
const panels = [
    { name: 'x', top: 39, data: [xEarly.concat(xRedTail), xEarly.concat(xGreenTail), xEarly.concat(xBlueTail)] },
    { name: 'y', top: 535, data: [yEarly.concat(yRedTail), yEarly.concat(yGreenTail), yEarly.concat(yBlueTail)], smooth: 0.3 },
    { name: 'z', top: 1030, data: [zEarly.concat(zRedTail), zEarly.concat(zGreenTail), zEarly.concat(zBlueTail)] }
]
const PLOT_H = 301

const tick = { show: true, inside: true, length: 20, lineStyle: { color: '#000', width: 3 } }
const line = { show: true, onZero: false, lineStyle: { color: '#000', width: 3 } }

const grid = [], xAxis = [], yAxis = [], series = []
panels.forEach((p, i) => {
    grid.push({ left: 126, width: 1466, top: p.top, height: PLOT_H, show: true, borderColor: '#000', borderWidth: 3, containLabel: false, outerBoundsMode: 'none' })
    ;['bottom', 'top'].forEach(pos => xAxis.push({
        type: 'value', gridIndex: i, min: 0, max: 2000, interval: 200, position: pos,
        axisLine: line, axisTick: tick, splitLine: { show: false }, axisLabel: { show: false }
    }))
    ;['left', 'right'].forEach(pos => yAxis.push({
        type: 'value', gridIndex: i, min: 0, max: 1, interval: 0.5, position: pos,
        axisLine: line, axisTick: tick, splitLine: { show: false }, axisLabel: { show: false }
    }))
    p.data.forEach((d, k) => {
        series.push({
            type: 'line', xAxisIndex: i * 2, yAxisIndex: i * 2, data: d,
            showSymbol: false, symbol: 'none', smooth: p.smooth || false,
            lineStyle: { color: COLORS[k], width: 3 }, itemStyle: { color: COLORS[k] },
            z: 2 + k, silent: true
        })
    })
})

const myChart = echarts.init(document.getElementById('main'), null, { renderer: 'canvas' })
myChart.setOption({ animation: false, backgroundColor: '#fff', grid, xAxis, yAxis, series })

// tick labels and axis titles in the tall, narrow face of the original
// (placed through the axes' own scales, squeezed horizontally)
const SQUEEZE = 0.7
function label (str, x, y, align, rotation) {
    return {
        type: 'text', x: x, y: y, rotation: rotation || 0, scaleX: SQUEEZE, silent: true, z: 100,
        style: { text: str, fill: '#000', fontSize: 54, fontFamily: FONT, align: align, verticalAlign: 'middle' }
    }
}
const graphic = []
panels.forEach((p, i) => {
    const bottom = p.top + PLOT_H
    tTicks.forEach(t => {
        const px = myChart.convertToPixel({ xAxisIndex: i * 2 }, t)
        graphic.push(label(String(t), px, bottom + 48, 'center'))
    })
    vTicks.forEach(v => {
        const py = myChart.convertToPixel({ yAxisIndex: i * 2 }, v)
        graphic.push(label(String(v), 113, py, 'right'))
    })
    const midX = myChart.convertToPixel({ xAxisIndex: i * 2 }, 1000)
    graphic.push(label('t', midX, bottom + 116, 'center'))
    graphic.push(label(p.name, 30, p.top + PLOT_H / 2, 'center', Math.PI / 2))
})
myChart.setOption({ graphic })
</script>
</body>
</html>
